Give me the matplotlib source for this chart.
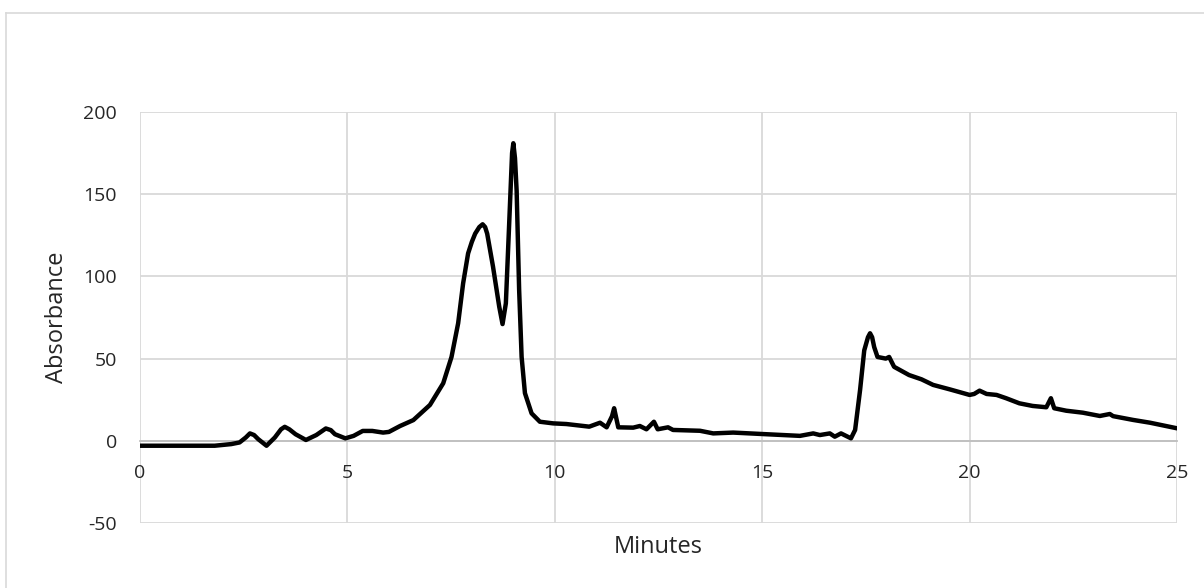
import matplotlib
matplotlib.use('Agg')
import matplotlib.pyplot as plt
from matplotlib.lines import Line2D

# chromatogram trace (minutes, absorbance)
minutes = [0.0, 1.0, 1.8, 2.2, 2.4, 2.55, 2.65, 2.75, 2.85, 3.05, 3.25, 3.4, 3.49, 3.6,
           3.75, 4.0, 4.25, 4.48, 4.6, 4.7, 4.95, 5.15, 5.37, 5.6, 5.86, 6.0, 6.27,
           6.59, 6.99, 7.31, 7.51, 7.67, 7.79, 7.91, 8.0, 8.08, 8.18, 8.26, 8.32, 8.37,
           8.51, 8.66, 8.74, 8.82, 8.9, 8.97, 9.0, 9.04, 9.08, 9.14, 9.2, 9.28, 9.44,
           9.64, 9.96, 10.28, 10.83, 11.09, 11.25, 11.38, 11.43, 11.48, 11.53, 11.89,
           12.05, 12.21, 12.39, 12.48, 12.73, 12.85, 13.5, 13.82, 14.3, 15.1,
           15.91, 16.23, 16.39, 16.63, 16.75, 16.9, 17.14, 17.24, 17.36, 17.46,
           17.55, 17.6, 17.65, 17.7, 17.78, 17.98, 18.06, 18.18, 18.54, 18.84,
           19.12, 19.52, 20.0, 20.11, 20.24, 20.41, 20.65, 20.88, 21.2, 21.52,
           21.85, 21.96, 22.04, 22.33, 22.73, 23.14, 23.38, 23.46, 23.94, 24.35,
           25.0]
absorbance = [-3, -3, -3, -2, -1, 2, 4.5, 3.5, 1, -3, 2, 7, 8.5, 7,
              4, 0.5, 3.5, 7.5, 6.5, 4, 1.5, 3, 6, 6, 5, 5.4, 9,
              12.6, 21.8, 35, 51, 71.5, 95.8, 114, 121, 126, 130, 131.7, 130, 126,
              106, 81.6, 71, 83.6, 132, 175, 181, 172, 152, 92, 51, 29, 16.7,
              11.6, 10.6, 10.2, 8.6, 11, 8.2, 15, 19.8, 14, 8.2, 8,
              9, 7, 11.6, 7, 8.2, 6.6, 6.1, 4.5, 5, 4,
              3, 4.5, 3.5, 4.5, 2.5, 4.5, 1.5, 6.6, 31, 55,
              63, 65.4, 63, 57, 51, 50, 51, 45, 40, 37.4,
              34, 31.3, 27.9, 28.5, 30.5, 28.5, 27.9, 25.9, 22.8, 21.2,
              20.4, 25.9, 19.8, 18.3, 17.1, 15.1, 16.3, 15, 12.7, 11,
              7.6]

x_ticks = [0, 5, 10, 15, 20, 25]
y_ticks = [-50, 0, 50, 100, 150, 200]

plt.rcParams['font.family'] = ['Open Sans', 'DejaVu Sans']
plt.rcParams['axes.unicode_minus'] = False
text_color = '#262626'
grid_color = '#d9d9d9'

fig = plt.figure(figsize=(12.04, 5.88), dpi=100)
ax = fig.add_axes([140 / 1204, 1 - 523 / 588, 1037 / 1204, 411 / 588])

# chart-area border: only left and top edges fall inside the picture
bx, by = 5.5 / 1204, 1 - 12.5 / 588
fig.add_artist(Line2D([bx, bx], [0, by], transform=fig.transFigure,
                      color=grid_color, linewidth=1.2))
fig.add_artist(Line2D([bx, 1], [by, by], transform=fig.transFigure,
                      color=grid_color, linewidth=1.2))

ax.plot(minutes, absorbance, color='black', linewidth=3.2,
        solid_joinstyle='round', solid_capstyle='round', zorder=3)

ax.set_xlim(0, 25)
ax.set_ylim(-50, 200)
ax.set_xticks(x_ticks)
ax.set_yticks(y_ticks)
ax.grid(True, color=grid_color, linewidth=1.3, zorder=0)
ax.set_axisbelow(True)

for side in ['top', 'right', 'left']:
    ax.spines[side].set_visible(False)
ax.spines['bottom'].set_position(('data', 0))
ax.spines['bottom'].set_color('#bfbfbf')
ax.spines['bottom'].set_linewidth(1.3)
ax.spines['bottom'].set_zorder(1)

ax.tick_params(axis='x', length=0, pad=17, labelsize=14, labelcolor=text_color)
ax.tick_params(axis='y', length=0, pad=16.5, labelsize=14, labelcolor=text_color)

ax.set_xlabel('Minutes', fontsize=17, color=text_color)
ax.set_ylabel('Absorbance', fontsize=17, color=text_color)
ax.xaxis.set_label_coords(0.5, -0.058)
ax.yaxis.set_label_coords(-0.080, 0.5)
ax.xaxis.label.set_va('center')
ax.yaxis.label.set_va('center')

fig.savefig('out.png', dpi=100, facecolor='white')
